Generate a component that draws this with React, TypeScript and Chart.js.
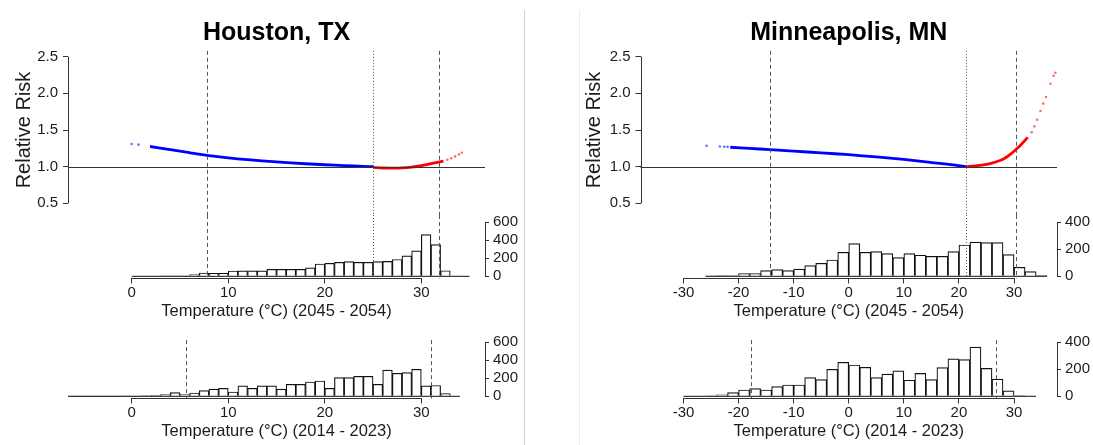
import React, { useEffect, useRef } from "react";
import { Chart, registerables } from "chart.js";

Chart.register(...registerables);

const FONT = "'Liberation Sans', Arial, Helvetica, sans-serif";
const INK = "#1c1c1c";
const AXIS = "#333333";
const BAR_EDGE = "#111111";
const BLUE = "#0000ff";
const RED = "#ff0000";

// ---------------- Houston, TX ----------------
const houstonTitle = "Houston, TX";
const houstonXTicks = [0, 10, 20, 30];
const houstonBlueDotsT = [0.0, 0.7];
const houstonBlueDotsRR = [1.31, 1.3];
const houstonBlueT = [1.9, 4, 6, 7.8, 10, 12, 15, 18, 20, 22, 24, 25.0];
const houstonBlueRR = [1.275, 1.232, 1.19, 1.155, 1.12, 1.095, 1.065, 1.04, 1.026, 1.014, 1.004, 1.0];
const houstonRedT = [25.0, 26, 27, 28, 29, 30, 31, 32.3];
const houstonRedRR = [0.99, 0.982, 0.98, 0.983, 0.993, 1.013, 1.04, 1.075];
const houstonRedDotsT = [32.7, 33.1, 33.5, 33.9, 34.2];
const houstonRedDotsRR = [1.095, 1.115, 1.14, 1.165, 1.19];
const houstonFutureLines = [7.77, 25.03, 31.83];
const houstonPastLines = [5.59, 30.97];
const houstonFutureEdge0 = 0;
const houstonPastEdge0 = -8;
const houstonBinWidth = 1;
const houstonFutureCounts = [
  0, 0, 0, 3, 3, 4, 19, 37, 34, 34,
  59, 60, 60, 60, 78, 78, 78, 78, 93, 137,
  144, 156, 163, 156, 156, 163, 165, 187, 228, 283,
  463, 352, 62, 0, 0,
];
const houstonPastCounts = [
  1, 1, 1, 1, 2, 2, 2, 3,
  2, 8, 10, 19, 41, 19, 37, 63, 81, 89,
  48, 115, 89, 115, 115, 81, 133, 133, 159, 170,
  89, 207, 207, 222, 222, 133, 290, 256, 263, 300,
  115, 120, 30, 0,
];
const houstonHistTicks = [0, 200, 400, 600];

// ---------------- Minneapolis, MN ----------------
const minnTitle = "Minneapolis, MN";
const minnXTicks = [-30, -20, -10, 0, 10, 20, 30];
const minnBlueDotsT = [-25.8, -23.4, -22.6, -22.0];
const minnBlueDotsRR = [1.285, 1.275, 1.272, 1.27];
const minnBlueT = [-21.5, -18, -14.3, -10, -5, 0, 5, 10, 14, 17, 19.3, 21.3];
const minnBlueRR = [1.265, 1.25, 1.232, 1.212, 1.188, 1.163, 1.133, 1.098, 1.065, 1.04, 1.02, 1.0];
const minnRedT = [21.3, 23, 25, 26.5, 28, 29.2, 30.3, 31.4, 32.5];
const minnRedRR = [1.0, 1.01, 1.03, 1.06, 1.1, 1.16, 1.23, 1.31, 1.4];
const minnRedDotsT = [33.2, 33.7, 34.2, 34.8, 35.3, 35.8, 36.6, 37.2, 37.5];
const minnRedDotsRR = [1.47, 1.55, 1.64, 1.76, 1.86, 1.95, 2.13, 2.24, 2.28];
const minnFutureLines = [-14.29, 21.28, 30.3];
const minnPastLines = [-17.79, 26.67];
const minnFutureEdge0 = -26;
const minnPastEdge0 = -30;
const minnBinWidth = 2;
const minnFutureCounts = [
  3, 5, 6, 20, 20, 42, 49, 42, 54, 79, 96, 121, 178,
  242, 178, 183, 168, 138, 168, 156, 148, 148, 183, 232, 254, 249, 249, 160,
  67, 35, 7,
];
const minnPastCounts = [
  0, 0, 2, 10, 27, 47, 57, 47, 72, 84, 84, 138, 123, 200, 252,
  232, 215, 138, 165, 188, 119, 170, 123, 212, 277, 272, 365, 207, 128, 40,
  5, 0,
];
const minnHistTicks = [0, 200, 400];

const rrTicks = [0.5, 1.0, 1.5, 2.0, 2.5];
const futureLabel = "Temperature (°C) (2045 - 2054)";
const pastLabel = "Temperature (°C) (2014 - 2023)";
const yLabel = "Relative Risk";

// ---------------- helpers ----------------
const pts = (t: number[], v: number[]) => t.map((x, i) => ({ x, y: v[i] }));
const histPts = (edge0: number, w: number, counts: number[]) =>
  counts.map((c, i) => ({ x: edge0 + w * (i + 0.5), y: c }));

const rStyle = {
  id: "rStyle",
  afterDatasetsDraw(chart: any, _args: any, o: any) {
    const { ctx, chartArea: a, scales } = chart;
    const xs = scales.x;
    const ys = scales.y;
    ctx.save();
    ctx.lineWidth = 1;
    const top = o.vTop === "area" ? a.top : o.vTop;
    const bottom = o.vBottom === "area" ? a.bottom : chart.height;
    (o.vLines || []).forEach((v: number, i: number) => {
      const x = Math.round(xs.getPixelForValue(v)) + 0.5;
      const dotted = (o.vDotted || []).includes(i);
      ctx.setLineDash(dotted ? [1, 2] : [4, 3]);
      ctx.strokeStyle = "#555";
      ctx.beginPath();
      ctx.moveTo(x, top);
      ctx.lineTo(x, bottom);
      ctx.stroke();
    });
    ctx.setLineDash([]);
    ctx.strokeStyle = AXIS;
    (o.hLines || []).forEach((v: number) => {
      const y = Math.round(ys.getPixelForValue(v)) + 0.5;
      ctx.beginPath();
      ctx.moveTo(a.left, y);
      ctx.lineTo(a.right, y);
      ctx.stroke();
    });
    if (o.yAxis) {
      const t = ys.ticks;
      const x = Math.round(o.yAxis === "left" ? a.left : a.right) + 0.5;
      ctx.beginPath();
      ctx.moveTo(x, ys.getPixelForValue(t[0].value));
      ctx.lineTo(x, ys.getPixelForValue(t[t.length - 1].value));
      ctx.stroke();
    }
    if (o.xAxis) {
      const t = xs.ticks;
      const y = Math.round(a.bottom) + 0.5;
      ctx.beginPath();
      ctx.moveTo(xs.getPixelForValue(t[0].value), y);
      ctx.lineTo(xs.getPixelForValue(t[t.length - 1].value), y);
      ctx.stroke();
    }
    if (o.title) {
      ctx.fillStyle = "#000";
      ctx.font = `bold 25px ${FONT}`;
      ctx.textAlign = "center";
      ctx.textBaseline = "middle";
      ctx.fillText(o.title, (a.left + a.right) / 2, o.titleY);
    }
    ctx.restore();
  },
};

interface Panel {
  canvasLeft: number;
  canvasWidth: number;
  areaLeft: number;
  areaRight: number;
  xMin: number;
  xMax: number;
  xTicks: number[];
  title: string;
  yTitleX: number;
  blueDots: [number[], number[]];
  blue: [number[], number[]];
  red: [number[], number[]];
  redDots: [number[], number[]];
  futureLines: number[];
  pastLines: number[];
  futureEdge0: number;
  pastEdge0: number;
  binWidth: number;
  futureCounts: number[];
  pastCounts: number[];
  histTicks: number[];
}

const panels: Panel[] = [
  {
    canvasLeft: 0,
    canvasWidth: 525,
    areaLeft: 68,
    areaRight: 485,
    xMin: -6.6,
    xMax: 36.6,
    xTicks: houstonXTicks,
    title: houstonTitle,
    yTitleX: 24,
    blueDots: [houstonBlueDotsT, houstonBlueDotsRR],
    blue: [houstonBlueT, houstonBlueRR],
    red: [houstonRedT, houstonRedRR],
    redDots: [houstonRedDotsT, houstonRedDotsRR],
    futureLines: houstonFutureLines,
    pastLines: houstonPastLines,
    futureEdge0: houstonFutureEdge0,
    pastEdge0: houstonPastEdge0,
    binWidth: houstonBinWidth,
    futureCounts: houstonFutureCounts,
    pastCounts: houstonPastCounts,
    histTicks: houstonHistTicks,
  },
  {
    canvasLeft: 530,
    canvasWidth: 563,
    areaLeft: 640.5,
    areaRight: 1057,
    xMin: -37.8,
    xMax: 37.8,
    xTicks: minnXTicks,
    title: minnTitle,
    yTitleX: 594,
    blueDots: [minnBlueDotsT, minnBlueDotsRR],
    blue: [minnBlueT, minnBlueRR],
    red: [minnRedT, minnRedRR],
    redDots: [minnRedDotsT, minnRedDotsRR],
    futureLines: minnFutureLines,
    pastLines: minnPastLines,
    futureEdge0: minnFutureEdge0,
    pastEdge0: minnPastEdge0,
    binWidth: minnBinWidth,
    futureCounts: minnFutureCounts,
    pastCounts: minnPastCounts,
    histTicks: minnHistTicks,
  },
];

const RR_TOP = 0;
const RR_H = 215;
const HIST1_TOP = 205;
const HIST2_TOP = 325;
const HIST_H = 120;

function rrConfig(p: Panel): any {
  const relL = p.areaLeft - p.canvasLeft;
  const relR = p.areaRight - p.canvasLeft;
  const lineDs = (d: [number[], number[]], color: string) => ({
    data: pts(d[0], d[1]),
    showLine: true,
    borderColor: color,
    borderWidth: 2.8,
    pointRadius: 0,
    tension: 0.3,
  });
  const dotDs = (d: [number[], number[]], color: string) => ({
    data: pts(d[0], d[1]),
    showLine: false,
    pointRadius: 1.3,
    pointBorderWidth: 0,
    backgroundColor: color,
  });
  return {
    type: "scatter",
    data: {
      datasets: [
        lineDs(p.blue, BLUE),
        dotDs(p.blueDots, "rgba(30,30,255,0.65)"),
        lineDs(p.red, RED),
        dotDs(p.redDots, "rgba(255,30,30,0.65)"),
      ],
    },
    options: {
      responsive: false,
      animation: false,
      devicePixelRatio: 1,
      events: [],
      layout: { padding: { left: 0, right: p.canvasWidth - relR, top: 50.8, bottom: RR_H - 209.2 } },
      plugins: {
        legend: { display: false },
        tooltip: { enabled: false },
        rStyle: {
          vLines: p.futureLines,
          vDotted: [1],
          vTop: "area",
          vBottom: "canvas",
          hLines: [1],
          yAxis: "left",
          title: p.title,
          titleY: 33.5,
        },
      },
      scales: {
        x: { type: "linear", display: false, min: p.xMin, max: p.xMax },
        y: {
          type: "linear",
          min: 0.42,
          max: 2.58,
          afterBuildTicks: (s: any) => {
            s.ticks = rrTicks.map((v) => ({ value: v }));
          },
          afterFit: (s: any) => {
            s.width = relL;
            s.paddingTop = 0;
            s.paddingBottom = 0;
          },
          ticks: {
            font: { family: FONT, size: 15 },
            color: INK,
            padding: 5,
            autoSkip: false,
            callback: (v: any) => Number(v).toFixed(1),
          },
          grid: { drawOnChartArea: false, drawTicks: true, tickLength: 5, color: AXIS },
          border: { display: false },
          title: {
            display: true,
            text: yLabel,
            color: INK,
            font: { family: FONT, size: 20 },
            padding: { top: p.yTitleX - p.canvasLeft - 12, bottom: 0 },
          },
        },
      },
    },
    plugins: [rStyle],
  };
}

function histConfig(p: Panel, future: boolean): any {
  const relL = p.areaLeft - p.canvasLeft;
  const relR = p.areaRight - p.canvasLeft;
  const counts = future ? p.futureCounts : p.pastCounts;
  const edge0 = future ? p.futureEdge0 : p.pastEdge0;
  const edgeEnd = edge0 + p.binWidth * counts.length;
  const hMax = p.histTicks[p.histTicks.length - 1];
  const axisH = 311.7 + 9.9 - 278.46;
  return {
    type: "bar",
    data: {
      datasets: [
        {
          type: "line",
          data: [
            { x: edge0, y: 0 },
            { x: edgeEnd, y: 0 },
          ],
          borderColor: BAR_EDGE,
          borderWidth: 1,
          pointRadius: 0,
          order: 0,
        },
        {
          type: "bar",
          data: histPts(edge0, p.binWidth, counts),
          backgroundColor: "#ffffff",
          borderColor: BAR_EDGE,
          borderWidth: 1.2,
          barPercentage: 1,
          categoryPercentage: 1,
          order: 1,
        },
      ],
    },
    options: {
      responsive: false,
      animation: false,
      devicePixelRatio: 1,
      events: [],
      layout: { padding: { left: relL, right: 0, top: 15.14, bottom: HIST_H - 15.14 - 58.32 - axisH } },
      plugins: {
        legend: { display: false },
        tooltip: { enabled: false },
        rStyle: {
          vLines: future ? p.futureLines : p.pastLines,
          vDotted: future ? [1] : [],
          vTop: future ? 10 : "area",
          vBottom: "area",
          yAxis: "right",
          xAxis: true,
        },
      },
      scales: {
        x: {
          type: "linear",
          min: p.xMin,
          max: p.xMax,
          offset: false,
          afterBuildTicks: (s: any) => {
            s.ticks = p.xTicks.map((v) => ({ value: v }));
          },
          afterFit: (s: any) => {
            s.height = axisH;
            s.paddingLeft = 0;
            s.paddingRight = 0;
          },
          ticks: {
            font: { family: FONT, size: 15 },
            color: INK,
            padding: 0,
            maxRotation: 0,
            autoSkip: false,
            callback: (v: any) => String(v),
          },
          grid: { drawOnChartArea: false, drawTicks: true, tickLength: 5, color: AXIS, offset: false },
          border: { display: false },
          title: {
            display: true,
            text: future ? futureLabel : pastLabel,
            color: INK,
            font: { family: FONT, size: 16.5 },
            padding: 0,
          },
        },
        y: {
          type: "linear",
          position: "right",
          min: -hMax * 0.04,
          max: hMax * 1.04,
          afterBuildTicks: (s: any) => {
            s.ticks = p.histTicks.map((v) => ({ value: v }));
          },
          afterFit: (s: any) => {
            s.width = p.canvasWidth - relR;
            s.paddingTop = 0;
            s.paddingBottom = 0;
          },
          ticks: {
            font: { family: FONT, size: 15 },
            color: INK,
            padding: 4,
            autoSkip: false,
            callback: (v: any) => String(v),
          },
          grid: { drawOnChartArea: false, drawTicks: true, tickLength: 4, color: AXIS },
          border: { display: false },
        },
      },
    },
    plugins: [rStyle],
  };
}

function ChartCanvas(props: { config: any; left: number; top: number; width: number; height: number }) {
  const ref = useRef<HTMLCanvasElement>(null);
  useEffect(() => {
    const chart = new Chart(ref.current as HTMLCanvasElement, props.config);
    return () => chart.destroy();
  }, []);
  return (
    <canvas
      ref={ref}
      width={props.width}
      height={props.height}
      style={{
        position: "absolute",
        left: props.left,
        top: props.top,
        width: props.width,
        height: props.height,
      }}
    />
  );
}

export default function App() {
  return (
    <div
      style={{
        position: "absolute",
        left: 0,
        top: 0,
        width: 1093,
        height: 445,
        background: "#ffffff",
        overflow: "hidden",
      }}
    >
      <div style={{ position: "absolute", left: 524, top: 10, width: 1, height: 435, background: "#cfcfcf" }} />
      <div style={{ position: "absolute", left: 579, top: 10, width: 1, height: 435, background: "#ececec" }} />
      {panels.map((p, i) => (
        <React.Fragment key={i}>
          <ChartCanvas config={rrConfig(p)} left={p.canvasLeft} top={RR_TOP} width={p.canvasWidth} height={RR_H} />
          <ChartCanvas config={histConfig(p, true)} left={p.canvasLeft} top={HIST1_TOP} width={p.canvasWidth} height={HIST_H} />
          <ChartCanvas config={histConfig(p, false)} left={p.canvasLeft} top={HIST2_TOP} width={p.canvasWidth} height={HIST_H} />
        </React.Fragment>
      ))}
    </div>
  );
}
